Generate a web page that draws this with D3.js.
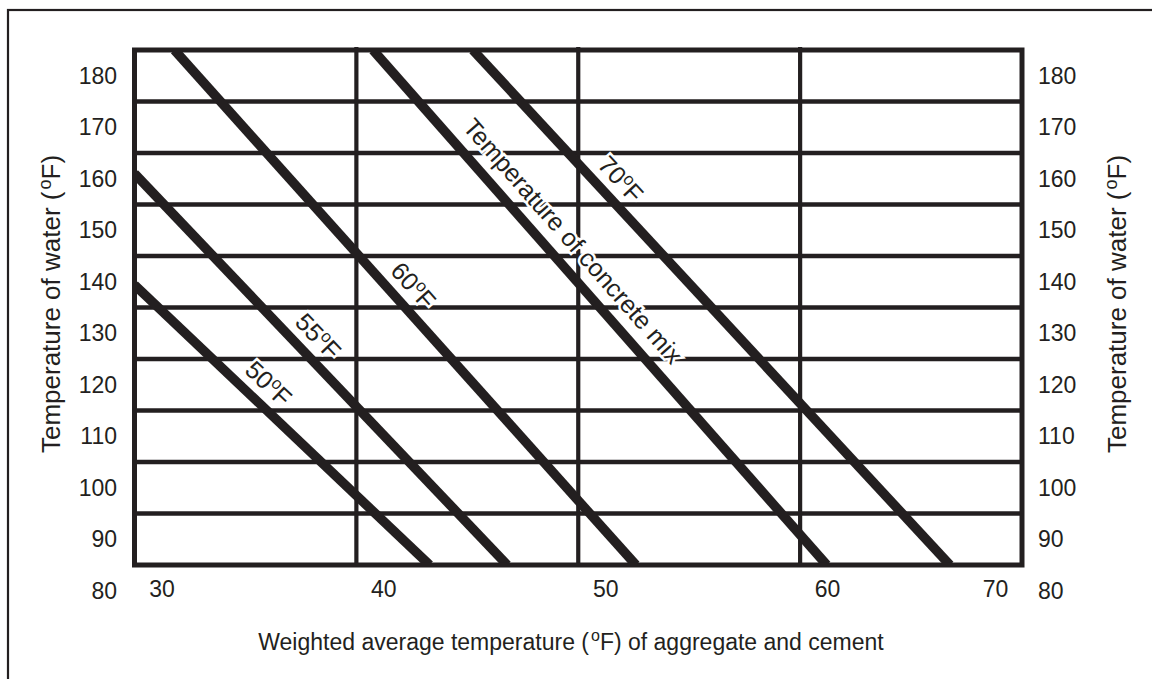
<!DOCTYPE html>
<meta charset="utf-8">
<script src="https://cdn.jsdelivr.net/npm/d3@7"></script>
<style>
body { margin: 0; background: #fff; }
text { font-family: "Liberation Sans", Arial, sans-serif; fill: #231f20; }
</style>
<body>
<script>

// chart values
var xTicks = [30, 40, 50, 60, 70];
var yTicks = [80, 90, 100, 110, 120, 130, 140, 150, 160, 170, 180];
var vGrid = [40, 50, 60];
var hGrid = [95, 105, 115, 125, 135, 145, 155, 165, 175];

// concrete mix temperature lines: [aggregate temp, water temp] at each end
var mixNames = ["50", "55", "60", "Temperature of concrete mix", "70"];
var mixStart = [[30, 139.4], [30, 161], [31.8, 185], [40.75, 185], [45.25, 185]];
var mixEnd = [[43.3, 85], [46.8, 85], [52.6, 85], [61.2, 85], [66.75, 85]];
var labelAt = [35.4, 37.6, 41.87, 48.96, 51.23];

var width = 1152, height = 679;
var ink = "#231f20";

var x = d3.scaleLinear().domain([30, 70]).range([134.5, 1022]);
var y = d3.scaleLinear().domain([85, 185]).range([565, 50]);

var svg = d3.select("body").append("svg")
    .attr("width", width)
    .attr("height", height);

// outer frame (right and bottom edges are off the picture)
svg.append("rect")
    .attr("x", 8).attr("y", 10)
    .attr("width", 1200).attr("height", 700)
    .attr("fill", "none")
    .attr("stroke", ink)
    .attr("stroke-width", 2.2);

svg.append("clipPath").attr("id", "plot")
  .append("rect")
    .attr("x", x(30)).attr("y", y(185))
    .attr("width", x(70) - x(30)).attr("height", y(85) - y(185));

// grid
svg.append("g").selectAll("line")
    .data(hGrid)
    .enter().append("line")
    .attr("x1", x(30)).attr("x2", x(70))
    .attr("y1", function(d) { return y(d); })
    .attr("y2", function(d) { return y(d); })
    .attr("stroke", ink)
    .attr("stroke-width", 4.5);

svg.append("g").selectAll("line")
    .data(vGrid)
    .enter().append("line")
    .attr("x1", function(d) { return x(d); })
    .attr("x2", function(d) { return x(d); })
    .attr("y1", y(185) - 3).attr("y2", y(85))
    .attr("stroke", ink)
    .attr("stroke-width", 4.2);

// the diagonal lines
var lines = mixNames.map(function(name, i) {
  return { name: name, a: mixStart[i], b: mixEnd[i], at: labelAt[i] };
});

svg.append("g")
    .attr("clip-path", "url(#plot)")
  .selectAll("line")
    .data(lines)
    .enter().append("line")
    .attr("x1", function(d) { return x(d.a[0]); })
    .attr("y1", function(d) { return y(d.a[1]); })
    .attr("x2", function(d) { return x(d.b[0]); })
    .attr("y2", function(d) { return y(d.b[1]); })
    .attr("stroke", ink)
    .attr("stroke-width", 9.5);

// plot border
svg.append("rect")
    .attr("x", x(30)).attr("y", y(185))
    .attr("width", x(70) - x(30)).attr("height", y(85) - y(185))
    .attr("fill", "none")
    .attr("stroke", ink)
    .attr("stroke-width", 5);

// labels along the lines
var lab = svg.append("g").selectAll("text")
    .data(lines)
    .enter().append("text")
    .attr("font-size", 25)
    .attr("text-anchor", "middle")
    .attr("dy", function(d) { return d.name.length > 3 ? -15 : -12; })
    .attr("stroke", "#fff")
    .attr("stroke-width", 5)
    .attr("paint-order", "stroke")
    .attr("transform", function(d) {
      var px0 = x(d.a[0]), py0 = y(d.a[1]), px1 = x(d.b[0]), py1 = y(d.b[1]);
      var t = (d.at - d.a[0]) / (d.b[0] - d.a[0]);
      var yv = d.a[1] + t * (d.b[1] - d.a[1]);
      var ang = Math.atan2(py1 - py0, px1 - px0) * 180 / Math.PI;
      return "translate(" + x(d.at) + "," + y(yv) + ") rotate(" + ang + ")";
    });

lab.each(function(d) {
  var t = d3.select(this);
  if (d.name.length > 3) {
    t.text(d.name);
  } else {
    t.append("tspan").text(d.name);
    t.append("tspan").attr("font-size", 17).attr("dy", -9).text("o");
    t.append("tspan").attr("dy", 9).text("F");
  }
});

// axes
function styleAxis(g) {
  g.select(".domain").remove();
  g.selectAll("text")
      .attr("font-size", 23)
      .attr("font-family", "'Liberation Sans', Arial, sans-serif")
      .attr("fill", ink);
  g.attr("font-size", null).attr("font-family", null);
}

svg.append("g")
    .attr("transform", "translate(" + x(30) + ",0)")
    .call(d3.axisLeft(y).tickValues(yTicks).tickSize(0).tickPadding(17.5))
    .call(styleAxis);

svg.append("g")
    .attr("transform", "translate(" + x(70) + ",0)")
    .call(d3.axisRight(y).tickValues(yTicks).tickSize(0).tickPadding(16))
    .call(styleAxis);

svg.append("g")
    .attr("transform", "translate(0," + y(85) + ")")
    .call(d3.axisBottom(x).tickValues(xTicks).tickSize(0).tickPadding(16))
    .call(styleAxis)
    .selectAll("text")
    .attr("dx", function(d) { return d === 70 ? -27 : 27; });

// axis titles
function degreeTitle(g, before, after, sz) {
  g.append("tspan").text(before);
  g.append("tspan").attr("font-size", sz).attr("dx", 2).attr("dy", -9).text("o");
  g.append("tspan").attr("dy", 9).text(after);
}

var xt = svg.append("text")
    .attr("x", 571).attr("y", 650)
    .attr("font-size", 23)
    .attr("text-anchor", "middle");
degreeTitle(xt, "Weighted average temperature (", "F) of aggregate and cement", 16);

[60, 1126].forEach(function(px) {
  var t = svg.append("text")
      .attr("transform", "translate(" + px + ",304) rotate(-90)")
      .attr("font-size", 26)
      .attr("text-anchor", "middle");
  degreeTitle(t, "Temperature of water (", "F)", 18);
});

</script>
</body>
